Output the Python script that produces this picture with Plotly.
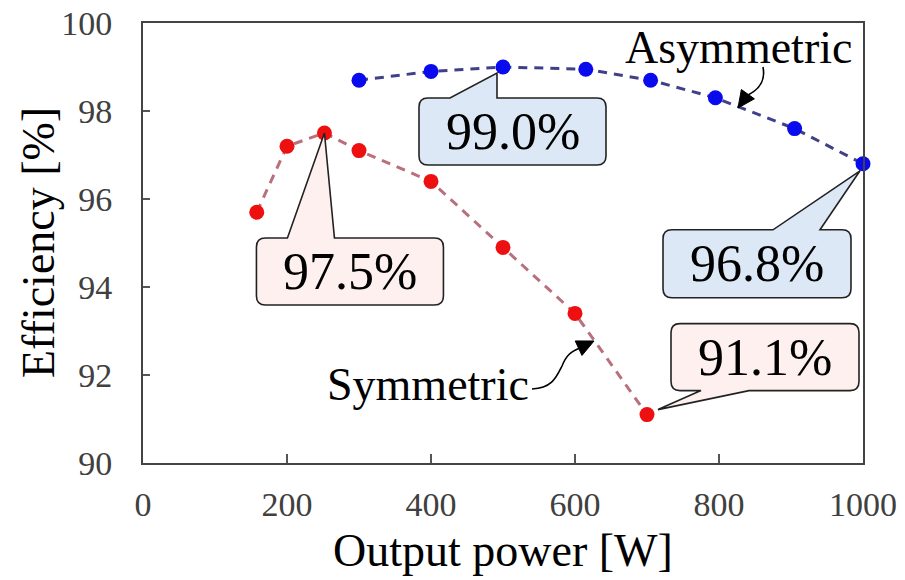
import plotly.graph_objects as go
import math

# ---------------- data ----------------
sym_power = [158, 200, 252, 300, 400, 500, 600, 700]
sym_eff = [95.7, 97.2, 97.5, 97.1, 96.4, 94.9, 93.4, 91.1]
asym_power = [300, 400, 500, 615, 705, 795, 905, 1000]
asym_eff = [98.7, 98.9, 99.0, 98.95, 98.7, 98.3, 97.6, 96.8]
x_ticks = [0, 200, 400, 600, 800, 1000]
y_ticks = [90, 92, 94, 96, 98, 100]

W, H = 905, 580
OFF = 8  # page body margin
ML, MR, MT, MB = 143, 42, 23, 117
XR = (0, 1000)
YR = (90, 100)
PW, PH = W - ML - MR, H - MT - MB
FONT = "Liberation Serif, Times New Roman, serif"


def to_px(x, y):
    return (ML + (x - XR[0]) / (XR[1] - XR[0]) * PW,
            MT + (YR[1] - y) / (YR[1] - YR[0]) * PH)


def to_data(px, py):
    return (XR[0] + (px - ML) / PW * (XR[1] - XR[0]),
            YR[1] - (py - MT) / PH * (YR[1] - YR[0]))


def path_from_px(cmds, close=True):
    out = []
    for c in cmds:
        op = c[0]
        coords = []
        for (px, py) in c[1:]:
            dx, dy = to_data(px, py)
            coords.append(f"{dx:.4f},{dy:.5f}")
        out.append(op + " " + " ".join(coords))
    return " ".join(out) + (" Z" if close else "")


def callout(xd, yd, box, base, side, tip_off=(0, 0), r=9):
    px, py = to_px(xd, yd)
    x0, y0, x1, y1 = px + box[0], py + box[1], px + box[2], py + box[3]
    b0, b1 = px + base[0], px + base[1]
    tx, ty = px + tip_off[0], py + tip_off[1]
    if side == "top":
        cmds = [("M", (x0 + r, y0)), ("L", (b0, y0)), ("L", (tx, ty)), ("L", (b1, y0)),
                ("L", (x1 - r, y0)), ("Q", (x1, y0), (x1, y0 + r)),
                ("L", (x1, y1 - r)), ("Q", (x1, y1), (x1 - r, y1)),
                ("L", (x0 + r, y1)), ("Q", (x0, y1), (x0, y1 - r)),
                ("L", (x0, y0 + r)), ("Q", (x0, y0), (x0 + r, y0))]
    else:
        cmds = [("M", (x0 + r, y0)), ("L", (x1 - r, y0)), ("Q", (x1, y0), (x1, y0 + r)),
                ("L", (x1, y1 - r)), ("Q", (x1, y1), (x1 - r, y1)),
                ("L", (b1, y1)), ("L", (tx, ty)), ("L", (b0, y1)),
                ("L", (x0 + r, y1)), ("Q", (x0, y1), (x0, y1 - r)),
                ("L", (x0, y0 + r)), ("Q", (x0, y0), (x0 + r, y0))]
    cx, cy = to_data((x0 + x1) / 2, (y0 + y1) / 2)
    return path_from_px(cmds), (cx, cy)


fig = go.Figure()
fig.add_trace(go.Scatter(x=asym_power, y=asym_eff, mode="lines+markers",
                         line=dict(color="#40408a", width=3, dash="9px,7px"),
                         marker=dict(color="#0a0aee", size=15), name="Asymmetric",
                         showlegend=False, cliponaxis=False))
fig.add_trace(go.Scatter(x=sym_power, y=sym_eff, mode="lines+markers",
                         line=dict(color="#b8707c", width=3, dash="9px,7px"),
                         marker=dict(color="#ee1010", size=15), name="Symmetric",
                         showlegend=False, cliponaxis=False))

blue_fill = "#dce8f5"
red_fill = "#fdf0ee"
shapes = []
annotations = []

i_peak_s = sym_eff.index(max(sym_eff))
i_peak_a = asym_eff.index(max(asym_eff))
callouts = [
    (sym_power[i_peak_s], sym_eff[i_peak_s], (-68, 105, 119, 172), (-37, 10), "top", (0, 0), red_fill),
    (asym_power[i_peak_a], asym_eff[i_peak_a], (-84, 31, 103, 98), (-53, -6), "top", (-6, 6), blue_fill),
    (asym_power[-1], asym_eff[-1], (-200, 66, -12, 134), (-90, -43), "top", (-3, 7), blue_fill),
    (sym_power[-1], sym_eff[-1], (24, -91, 212, -24), (54, 102), "bottom", (11, -5), red_fill),
]
for (xd, yd, box, base, side, toff, fill) in callouts:
    p, (cx, cy) = callout(xd, yd, box, base, side, toff)
    shapes.append(dict(type="path", path=p, xref="x", yref="y", fillcolor=fill,
                       line=dict(color="#222222", width=1.6), layer="above"))
    annotations.append(dict(x=cx, y=cy, xref="x", yref="y", text=f"{yd:.1f}%",
                            showarrow=False, font=dict(family=FONT, size=52, color="black"),
                            xanchor="center", yanchor="middle"))


def curved_arrow(cmds_px, tip, frm, length=17, half=8):
    shapes.append(dict(type="path", path=path_from_px(cmds_px, close=False), xref="x", yref="y",
                       line=dict(color="black", width=1.6), layer="above"))
    dx, dy = tip[0] - frm[0], tip[1] - frm[1]
    n = math.hypot(dx, dy)
    ux, uy = dx / n, dy / n
    bx, by = tip[0] - ux * length, tip[1] - uy * length
    p1 = (bx - uy * half, by + ux * half)
    p2 = (bx + uy * half, by - ux * half)
    tri = [("M", tip), ("L", p1), ("L", p2)]
    shapes.append(dict(type="path", path=path_from_px(tri), xref="x", yref="y",
                       fillcolor="black", line=dict(color="black", width=1), layer="above"))


# Asymmetric label arrow
curved_arrow([("M", (763, 67)), ("C", (766, 82), (758, 90), (748, 95))], (738, 108), (748, 94))
# Symmetric label arrow
curved_arrow([("M", (532, 389)), ("C", (552, 388), (556, 378), (562, 366)),
              ("C", (566, 356), (570, 352), (580, 348))], (594, 341), (579, 348))

ax, ay = to_data(738, 47)
annotations.append(dict(x=ax, y=ay, xref="x", yref="y", text="Asymmetric", showarrow=False,
                        font=dict(family=FONT, size=46, color="black"),
                        xanchor="center", yanchor="middle"))
sx, sy = to_data(428, 384)
annotations.append(dict(x=sx, y=sy, xref="x", yref="y", text="Symmetric", showarrow=False,
                        font=dict(family=FONT, size=46, color="black"),
                        xanchor="center", yanchor="middle"))

# axis titles placed as paper annotations
annotations.append(dict(x=(503 - ML) / PW, y=-(550 - (MT + PH)) / PH, xref="paper", yref="paper",
                        text="Output power [W]", showarrow=False,
                        font=dict(family=FONT, size=46, color="black"),
                        xanchor="center", yanchor="middle"))
annotations.append(dict(x=-(ML - 38) / PW, y=(MT + PH - 243) / PH, xref="paper", yref="paper",
                        text="Efficiency [%]", showarrow=False, textangle=-90,
                        font=dict(family=FONT, size=46, color="black"),
                        xanchor="center", yanchor="middle"))

fig.update_layout(
    width=W - OFF, height=H - OFF,
    margin=dict(l=ML - OFF, r=MR, t=MT - OFF, b=MB, pad=0, autoexpand=False),
    paper_bgcolor="white", plot_bgcolor="white",
    shapes=shapes, annotations=annotations,
    font=dict(family=FONT, color="black"),
)
fig.update_xaxes(range=list(XR), tickvals=x_ticks, ticktext=[str(v) for v in x_ticks],
                 ticks="inside", ticklen=9, tickwidth=2, tickcolor="#555555",
                 showline=True, linecolor="#444444", linewidth=2, mirror=True,
                 showgrid=False, zeroline=False, automargin=False, ticklabeloverflow="allow",
                 tickfont=dict(family=FONT, size=34, color="#404040"), ticklabelstandoff=10)
fig.update_yaxes(range=list(YR), tickvals=y_ticks, ticktext=[str(v) for v in y_ticks],
                 ticks="inside", ticklen=7, tickwidth=2, tickcolor="#555555",
                 showline=True, linecolor="#444444", linewidth=2, mirror=True,
                 showgrid=False, zeroline=False, automargin=False, ticklabeloverflow="allow",
                 tickfont=dict(family=FONT, size=34, color="#404040"), ticklabelstandoff=22)

fig.write_html("out.html")
